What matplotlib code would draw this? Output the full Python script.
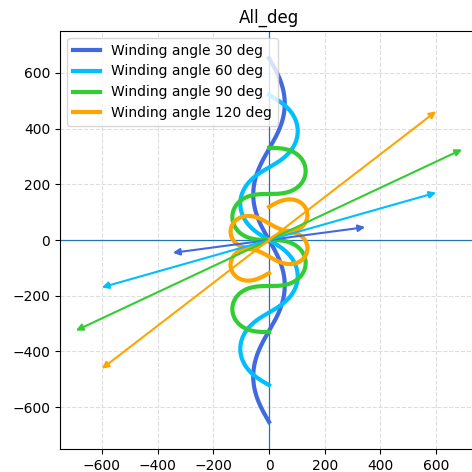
import numpy as np
import matplotlib
matplotlib.use("Agg")
import matplotlib.pyplot as plt

# ---- data ----
winding_angles_deg = [30, 60, 90, 120]
curve_colors = ["royalblue", "deepskyblue", "limegreen", "orange"]
curve_length = 1400.0       # total arc length of each curve
n_periods = 2               # number of meander periods along the curve
arrow_tip_x = [345, 600, 693, 600]
arrow_tip_y = [46, 170, 325, 462]
x_ticks = [-600, -400, -200, 0, 200, 400, 600]
y_ticks = [-600, -400, -200, 0, 200, 400, 600]
title = "All_deg"

fig = plt.figure(figsize=(4.72, 4.72), dpi=100)
ax = fig.add_axes([60 / 472, 23 / 472, 418 / 472, 418 / 472])

s = np.linspace(-curve_length / 2, curve_length / 2, 4001)
period = curve_length / n_periods
for ang, col in zip(winding_angles_deg, curve_colors):
    w = np.deg2rad(ang)
    theta = -w * np.cos(2 * np.pi * s / period)
    ds = s[1] - s[0]
    dx = np.sin(theta) * ds
    dy = np.cos(theta) * ds
    x = np.concatenate([[0], np.cumsum((dx[1:] + dx[:-1]) / 2)])
    y = np.concatenate([[0], np.cumsum((dy[1:] + dy[:-1]) / 2)])
    mid = len(s) // 2
    x -= x[mid]
    y -= y[mid]
    ax.plot(x, y, color=col, lw=3, label=f"Winding angle {ang} deg", zorder=3)

ax.axhline(0, color="#1f77b4", lw=0.9, zorder=2)
ax.axvline(0, color="#1f77b4", lw=0.9, zorder=2)

for tx, ty, col in zip(arrow_tip_x, arrow_tip_y, curve_colors):
    ax.annotate("", xy=(tx, ty), xytext=(-tx, -ty),
                arrowprops=dict(arrowstyle="<|-|>", color=col, lw=1.5,
                                mutation_scale=10, shrinkA=0, shrinkB=0),
                zorder=4)

ax.set_xlim(-750, 750)
ax.set_ylim(-750, 750)
ax.set_aspect("equal")
ax.set_xticks(x_ticks)
ax.set_yticks(y_ticks)
ax.grid(True, ls="--", color="#dddddd", lw=0.8)
ax.set_axisbelow(True)
ax.tick_params(labelsize=10)
ax.set_title(title, fontsize=12)
ax.legend(loc="upper left", fontsize=10, framealpha=0.8)

fig.savefig("out.png", dpi=100)
